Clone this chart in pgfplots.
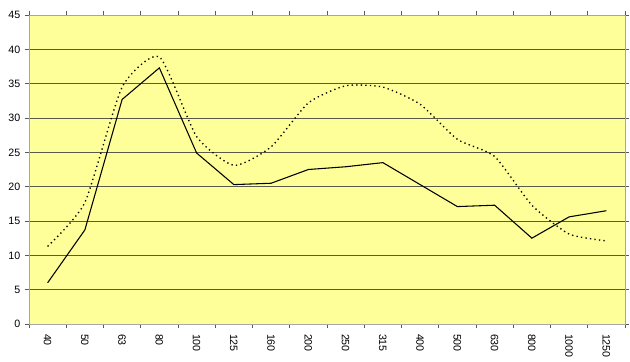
\documentclass[border=0pt]{standalone}
\usepackage{pgfplots}
\pgfplotsset{compat=1.18}
\usepackage{fontspec}
\setmainfont{Liberation Sans}
\definecolor{bgyel}{HTML}{FFFF99}
\definecolor{gridc}{HTML}{5A5A4A}
\begin{document}
\begin{tikzpicture}
\useasboundingbox (-21.75pt,-27.75pt) rectangle (450.75pt,243pt);
\begin{axis}[
  scale only axis,
  width=447pt, height=231.75pt,
  at={(0,0)}, anchor=south west,
  xmin=-0.5, xmax=15.5,
  ymin=0, ymax=45,
  ytick={0,5,...,45},
  xtick={0,...,15},
  xticklabels={40,50,63,80,100,125,160,200,250,315,400,500,630,800,1000,1250},
  minor xtick={-0.5,0.5,...,15.5},
  major x tick style={draw=none},
  tick align=outside,
  major tick length=3pt,
  minor tick length=3pt,
  tick style={gray!70!black, line width=0.5pt},
  x tick label style={rotate=-90, anchor=west, font=\fontsize{8}{9}\selectfont, xshift=1pt},
  y tick label style={font=\fontsize{8}{9}\selectfont},
  /pgf/number format/assume math mode=true,
  ymajorgrids,
  grid style={gridc, line width=0.6pt},
  axis background/.style={fill=bgyel},
  axis line style={gray!70, line width=0.6pt},
  clip=false,
]
\addplot[black, line width=0.8pt] coordinates {
(0,6.0) (1,13.7) (2,32.7) (3,37.3) (4,24.9) (5,20.3) (6,20.5) (7,22.5)
(8,22.9) (9,23.5) (10,20.3) (11,17.1) (12,17.3) (13,12.5) (14,15.6) (15,16.5)};
\addplot[black, line width=1pt, dash pattern=on 1pt off 2.4pt, smooth, tension=0.35] coordinates {
(0,11.3) (1,17.7) (2,34.5) (3,38.9) (4,27.3) (5,23.1) (6,25.8) (7,32.2)
(8,34.7) (9,34.5) (10,32.0) (11,26.9) (12,24.4) (13,17.3) (14,13.1) (15,12.1)};
\end{axis}
\end{tikzpicture}
\end{document}
